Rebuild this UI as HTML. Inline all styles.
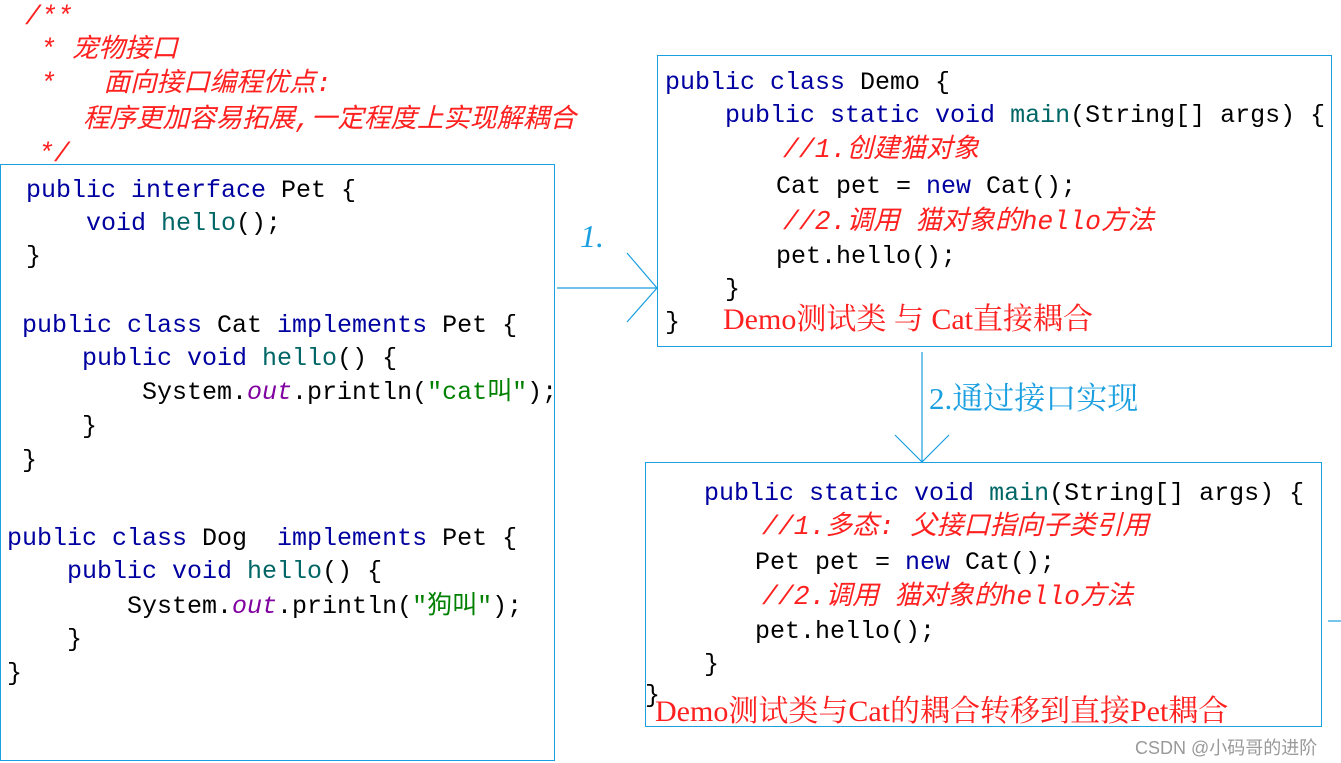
<!DOCTYPE html>
<html><head><meta charset="utf-8"><style>
body{margin:0;width:1341px;height:763px;background:#fff;position:relative;overflow:hidden}
.l{position:absolute;white-space:pre;font-family:"Liberation Mono","Noto Sans CJK SC",monospace;font-size:25px;line-height:34px;height:34px;color:#000}
.k{color:#0000a0}.m{color:#006666}.s{color:#008000}.o{font-style:italic;color:#8000a0}
.c{color:#ff2020;font-style:italic;font-size:26.5px}
.r{position:absolute;white-space:pre;font-family:"Liberation Serif","Noto Serif CJK SC",serif;font-size:30px;line-height:34px;color:#ff2020}
.b{position:absolute;border:1px solid #1a9fe0;box-sizing:border-box}
</style></head><body>
<div class="b" style="left:0;top:164px;width:555px;height:597px"></div>
<div class="b" style="left:657px;top:55px;width:675px;height:292px"></div>
<div class="b" style="left:645px;top:462px;width:677px;height:265px"></div>

<div class="l c" style="left:25px;top:0px">/**</div>
<div class="l c" style="left:40px;top:33px">* 宠物接口</div>
<div class="l c" style="left:40px;top:67px">*   面向接口编程优点:</div>
<div class="l c" style="left:83px;top:103px">程序更加容易拓展,一定程度上实现解耦合</div>
<div class="l c" style="left:38px;top:137px">*/</div>

<div class="l" style="left:26px;top:174px"><span class="k">public interface</span> Pet {</div>
<div class="l" style="left:86px;top:207px"><span class="k">void</span> <span class="m">hello</span>();</div>
<div class="l" style="left:26px;top:240px">}</div>
<div class="l" style="left:22px;top:309px"><span class="k">public class</span> Cat <span class="k">implements</span> Pet {</div>
<div class="l" style="left:82px;top:342px"><span class="k">public void</span> <span class="m">hello</span>() {</div>
<div class="l" style="left:142px;top:376px">System.<span class="o">out</span>.println(<span class="s">"cat叫"</span>);</div>
<div class="l" style="left:82px;top:410px">}</div>
<div class="l" style="left:22px;top:444px">}</div>
<div class="l" style="left:7px;top:522px"><span class="k">public class</span> Dog  <span class="k">implements</span> Pet {</div>
<div class="l" style="left:67px;top:555px"><span class="k">public void</span> <span class="m">hello</span>() {</div>
<div class="l" style="left:127px;top:590px">System.<span class="o">out</span>.println(<span class="s">"狗叫"</span>);</div>
<div class="l" style="left:67px;top:623px">}</div>
<div class="l" style="left:7px;top:657px">}</div>

<div class="l" style="left:665px;top:66px"><span class="k">public class</span> Demo {</div>
<div class="l" style="left:725px;top:99px"><span class="k">public static void</span> <span class="m">main</span>(String[] args) {</div>
<div class="l c" style="left:783px;top:133px">//1.创建猫对象</div>
<div class="l" style="left:776px;top:170px">Cat pet = <span class="k">new</span> Cat();</div>
<div class="l c" style="left:783px;top:205px">//2.调用 猫对象的hello方法</div>
<div class="l" style="left:776px;top:240px">pet.hello();</div>
<div class="l" style="left:725px;top:273px">}</div>
<div class="l" style="left:665px;top:306px">}</div>
<div class="r" style="left:723px;top:303px">Demo测试类 与 Cat直接耦合</div>

<div class="l" style="left:704px;top:477px"><span class="k">public static void</span> <span class="m">main</span>(String[] args) {</div>
<div class="l c" style="left:762px;top:510px">//1.多态: 父接口指向子类引用</div>
<div class="l" style="left:755px;top:546px">Pet pet = <span class="k">new</span> Cat();</div>
<div class="l c" style="left:762px;top:580px">//2.调用 猫对象的hello方法</div>
<div class="l" style="left:755px;top:615px">pet.hello();</div>
<div class="l" style="left:704px;top:648px">}</div>
<div class="l" style="left:645px;top:679px">}</div>
<div class="r" style="left:655px;top:695px">Demo测试类与Cat的耦合转移到直接Pet耦合</div>

<div class="r" style="left:580px;top:219px;color:#1a9fe0;font-style:italic;font-size:32px">1.</div>
<div class="r" style="left:929px;top:382px;color:#1a9fe0;font-size:31px">2.通过接口实现</div>
<div style="position:absolute;left:1135px;top:734px;font-family:'Liberation Sans','Noto Sans CJK SC',sans-serif;font-size:18px;color:#999">CSDN @小码哥的进阶</div>

<svg width="1341" height="763" style="position:absolute;left:0;top:0" fill="none" stroke="#1a9fe0" stroke-width="1.2">
<path d="M557 288H657M627 253L657 288L627 322"/>
<path d="M922 352V462M895 435L922 462L949 435"/>
<path d="M1328 621H1341"/>
</svg>
</body></html>
